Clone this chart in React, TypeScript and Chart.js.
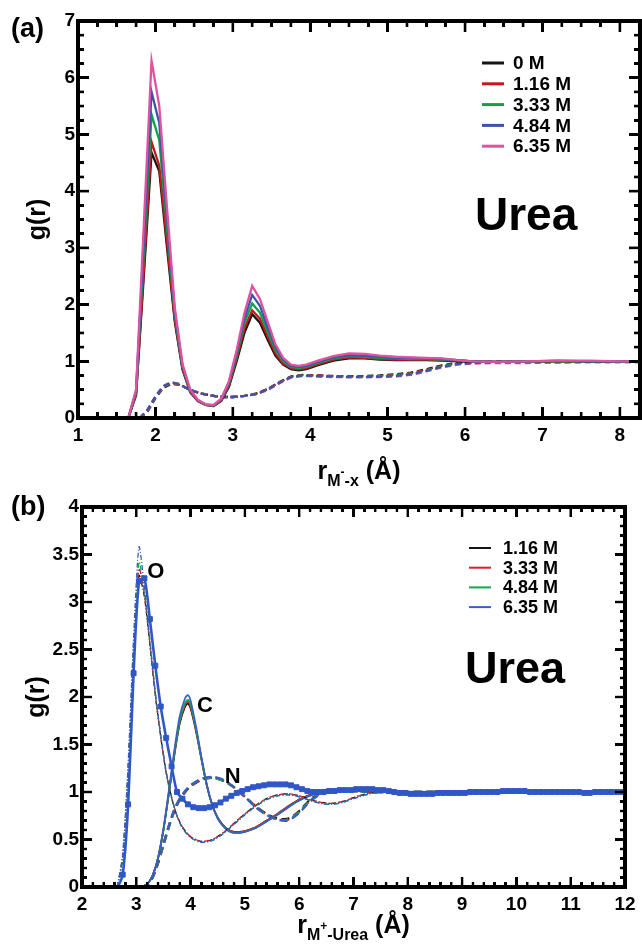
import React, { useEffect, useRef, useState } from 'react';
import { Chart, registerables } from 'chart.js';
Chart.register(...registerables);

const FONT = "'Liberation Sans', Arial, Helvetica, sans-serif";
const INK = '#000000';

// ---------------- Panel (a) data ----------------
const A_LABELS = ['0 M', '1.16 M', '3.33 M', '4.84 M', '6.35 M'];
const A_COLORS = ['#151515', '#c8161d', '#0fa04b', '#3a55a8', '#e2519f'];
const A_XTICKS = [1, 2, 3, 4, 5, 6, 7, 8];

const A_SOLID_R = [1.65, 1.75, 1.85, 1.95, 2.05, 2.15, 2.25, 2.35, 2.45, 2.55,
  2.65, 2.75, 2.85, 2.95, 3.05, 3.15, 3.25, 3.35, 3.45, 3.55,
  3.65, 3.75, 3.85, 3.95, 4.1, 4.3, 4.5, 4.7, 4.9, 5.1,
  5.3, 5.5, 5.7, 5.9, 6.1, 6.4, 6.8, 7.2, 7.6, 8.0, 8.3];
const A_SOLID_0M = [0, 0.4, 2.5, 4.68, 4.35, 3.0, 1.7, 0.85, 0.45, 0.3,
  0.23, 0.21, 0.3, 0.55, 1.0, 1.5, 1.83, 1.68, 1.38, 1.1,
  0.94, 0.86, 0.84, 0.86, 0.93, 1.01, 1.05, 1.05, 1.03, 1.02,
  1.02, 1.02, 1.01, 1.0, 0.99, 0.99, 1.0, 1.0, 1.0, 1.0, 1.0];
const A_SOLID_116 = [0, 0.42, 2.6, 4.87, 4.45, 3.1, 1.75, 0.87, 0.46, 0.3,
  0.23, 0.21, 0.31, 0.57, 1.05, 1.58, 1.9, 1.75, 1.44, 1.14,
  0.96, 0.88, 0.86, 0.88, 0.95, 1.03, 1.07, 1.06, 1.04, 1.03,
  1.03, 1.03, 1.02, 1.01, 1.0, 0.99, 1.0, 1.0, 1.0, 1.0, 1.0];
const A_SOLID_333 = [0, 0.45, 2.9, 5.35, 4.9, 3.35, 1.82, 0.9, 0.47, 0.31,
  0.23, 0.22, 0.32, 0.6, 1.1, 1.68, 2.02, 1.86, 1.52, 1.2,
  1.0, 0.9, 0.88, 0.9, 0.97, 1.05, 1.09, 1.08, 1.06, 1.05,
  1.04, 1.04, 1.03, 1.02, 1.0, 0.99, 1.0, 1.0, 1.0, 1.0, 1.0];
const A_SOLID_484 = [0, 0.48, 3.1, 5.75, 5.2, 3.5, 1.88, 0.92, 0.48, 0.31,
  0.24, 0.22, 0.33, 0.62, 1.15, 1.76, 2.17, 1.98, 1.6, 1.25,
  1.03, 0.92, 0.9, 0.92, 0.99, 1.07, 1.11, 1.1, 1.08, 1.06,
  1.06, 1.05, 1.04, 1.02, 1.0, 0.99, 1.0, 1.01, 1.0, 1.0, 1.0];
const A_SOLID_635 = [0, 0.5, 3.4, 6.3, 5.5, 3.7, 1.95, 0.95, 0.5, 0.32,
  0.24, 0.23, 0.34, 0.65, 1.2, 1.85, 2.33, 2.1, 1.7, 1.3,
  1.06, 0.94, 0.92, 0.94, 1.01, 1.09, 1.14, 1.13, 1.1, 1.08,
  1.07, 1.06, 1.05, 1.02, 1.0, 0.99, 1.0, 1.01, 1.01, 1.0, 1.0];

const A_DASH_R = [1.8, 1.9, 2.0, 2.1, 2.2, 2.3, 2.4, 2.5, 2.6, 2.7,
  2.8, 2.9, 3.0, 3.15, 3.3, 3.45, 3.6, 3.75, 3.9, 4.1,
  4.3, 4.5, 4.7, 4.9, 5.1, 5.3, 5.5, 5.7, 5.9, 6.1,
  6.4, 6.8, 7.2, 7.6, 8.0, 8.3];
const A_DASH_0M = [0, 0.12, 0.35, 0.53, 0.6, 0.59, 0.53, 0.47, 0.43, 0.4,
  0.38, 0.37, 0.37, 0.39, 0.43, 0.51, 0.63, 0.73, 0.76, 0.75,
  0.74, 0.74, 0.74, 0.75, 0.77, 0.8, 0.86, 0.93, 0.97, 0.99,
  1.0, 1.0, 1.0, 1.0, 1.0, 1.0];
const A_DASH_116 = [0, 0.13, 0.36, 0.54, 0.61, 0.59, 0.53, 0.47, 0.43, 0.4,
  0.38, 0.37, 0.37, 0.39, 0.43, 0.51, 0.63, 0.73, 0.75, 0.75,
  0.74, 0.73, 0.73, 0.74, 0.76, 0.79, 0.85, 0.92, 0.96, 0.98,
  0.99, 0.99, 0.99, 1.0, 1.0, 1.0];
const A_DASH_333 = [0, 0.14, 0.37, 0.55, 0.62, 0.6, 0.53, 0.47, 0.43, 0.4,
  0.38, 0.37, 0.37, 0.39, 0.42, 0.5, 0.62, 0.72, 0.75, 0.74,
  0.73, 0.73, 0.73, 0.74, 0.75, 0.78, 0.84, 0.91, 0.96, 0.97,
  0.98, 0.99, 0.99, 0.99, 0.99, 0.99];
const A_DASH_484 = [0, 0.15, 0.38, 0.56, 0.63, 0.6, 0.53, 0.47, 0.43, 0.4,
  0.38, 0.37, 0.37, 0.39, 0.42, 0.5, 0.62, 0.72, 0.75, 0.74,
  0.73, 0.72, 0.72, 0.73, 0.74, 0.77, 0.83, 0.9, 0.95, 0.97,
  0.98, 0.98, 0.98, 0.99, 0.99, 0.99];
const A_DASH_635 = [0, 0.15, 0.38, 0.56, 0.63, 0.6, 0.53, 0.47, 0.43, 0.4,
  0.38, 0.37, 0.37, 0.39, 0.42, 0.49, 0.61, 0.71, 0.74, 0.73,
  0.72, 0.72, 0.72, 0.72, 0.73, 0.76, 0.82, 0.89, 0.94, 0.96,
  0.97, 0.97, 0.98, 0.98, 0.98, 0.98];

// ---------------- Panel (b) data ----------------
const B_LABELS = ['1.16 M', '3.33 M', '4.84 M', '6.35 M'];
const B_COLORS = ['#151515', '#d4202a', '#14a550', '#3a5fc4'];
const B_REF_COLOR = '#2f57c6';

// O (dash-dot)
const B_O_R = [2.65, 2.75, 2.85, 2.95, 3.05, 3.15, 3.25, 3.35, 3.45, 3.55,
  3.65, 3.75, 3.85, 4.0, 4.2, 4.4, 4.6, 4.8, 5.0, 5.2,
  5.4, 5.6, 5.8, 6.0, 6.2, 6.4, 6.6, 6.8, 7.0, 7.3,
  7.6, 8.0, 9.0, 10.0, 11.0, 12.0];
const B_O_116 = [0, 0.3, 1.2, 2.45, 3.28, 3.05, 2.55, 2.02, 1.58, 1.2,
  0.94, 0.75, 0.63, 0.53, 0.48, 0.5, 0.57, 0.67, 0.77, 0.86,
  0.93, 0.97, 0.98, 0.96, 0.92, 0.89, 0.88, 0.9, 0.94, 0.99,
  1.01, 1.0, 1.0, 1.0, 1.0, 1.0];
const B_O_333 = [0, 0.32, 1.23, 2.5, 3.35, 3.08, 2.56, 2.03, 1.58, 1.2,
  0.94, 0.75, 0.63, 0.53, 0.48, 0.5, 0.57, 0.67, 0.77, 0.86,
  0.93, 0.97, 0.98, 0.96, 0.92, 0.89, 0.88, 0.9, 0.94, 0.99,
  1.0, 1.0, 1.0, 1.0, 1.0, 1.0];
const B_O_484 = [0, 0.33, 1.26, 2.55, 3.42, 3.1, 2.58, 2.04, 1.59, 1.21,
  0.94, 0.75, 0.62, 0.52, 0.47, 0.49, 0.56, 0.66, 0.76, 0.85,
  0.92, 0.96, 0.97, 0.95, 0.91, 0.88, 0.87, 0.89, 0.93, 0.98,
  1.0, 1.0, 1.0, 1.0, 1.0, 1.0];
const B_O_635 = [0, 0.35, 1.3, 2.62, 3.58, 3.15, 2.6, 2.05, 1.6, 1.22,
  0.95, 0.75, 0.62, 0.52, 0.47, 0.49, 0.56, 0.66, 0.76, 0.85,
  0.92, 0.96, 0.97, 0.95, 0.91, 0.88, 0.87, 0.89, 0.93, 0.98,
  1.0, 1.0, 1.0, 1.0, 1.0, 1.0];

// C (solid)
const B_C_R = [3.1, 3.2, 3.3, 3.4, 3.5, 3.6, 3.7, 3.8, 3.9, 3.95,
  4.0, 4.1, 4.2, 4.3, 4.4, 4.5, 4.6, 4.7, 4.8, 4.9,
  5.0, 5.2, 5.4, 5.6, 5.8, 6.0, 6.2, 6.4, 6.6, 6.8,
  7.0, 7.3, 7.6, 8.0, 9.0, 10.0, 11.0, 12.0];
const B_C_116 = [0, 0.03, 0.12, 0.3, 0.6, 0.98, 1.38, 1.72, 1.9, 1.93,
  1.88, 1.64, 1.34, 1.06, 0.86, 0.73, 0.65, 0.6, 0.58, 0.58,
  0.59, 0.63, 0.7, 0.77, 0.85, 0.92, 0.97, 1.0, 1.02, 1.03,
  1.02, 1.01, 1.0, 1.0, 1.0, 1.0, 1.0, 1.0];
const B_C_333 = [0, 0.03, 0.12, 0.3, 0.6, 0.99, 1.4, 1.74, 1.92, 1.95,
  1.9, 1.65, 1.35, 1.07, 0.86, 0.73, 0.65, 0.6, 0.58, 0.58,
  0.59, 0.63, 0.7, 0.77, 0.85, 0.92, 0.97, 1.0, 1.02, 1.03,
  1.02, 1.01, 1.0, 1.0, 1.0, 1.0, 1.0, 1.0];
const B_C_484 = [0, 0.03, 0.12, 0.3, 0.6, 0.99, 1.4, 1.75, 1.94, 1.97,
  1.92, 1.66, 1.35, 1.07, 0.86, 0.72, 0.64, 0.59, 0.57, 0.57,
  0.58, 0.62, 0.69, 0.76, 0.84, 0.91, 0.96, 1.0, 1.02, 1.03,
  1.02, 1.01, 1.0, 1.0, 1.0, 1.0, 1.0, 1.0];
const B_C_635 = [0, 0.03, 0.12, 0.31, 0.62, 1.02, 1.44, 1.8, 1.99, 2.02,
  1.96, 1.69, 1.37, 1.08, 0.86, 0.72, 0.64, 0.59, 0.57, 0.57,
  0.58, 0.62, 0.69, 0.76, 0.84, 0.91, 0.96, 1.0, 1.02, 1.03,
  1.02, 1.01, 1.0, 1.0, 1.0, 1.0, 1.0, 1.0];

// N (dashed)
const B_N_R = [3.1, 3.2, 3.3, 3.4, 3.5, 3.6, 3.7, 3.8, 3.9, 4.0,
  4.2, 4.4, 4.6, 4.8, 5.0, 5.2, 5.4, 5.6, 5.8, 6.0,
  6.2, 6.4, 6.6, 6.8, 7.0, 7.5, 8.0, 9.0, 10.0, 11.0, 12.0];
const B_N_116 = [0, 0.02, 0.1, 0.25, 0.44, 0.63, 0.8, 0.92, 1.0, 1.06,
  1.13, 1.15, 1.12, 1.05, 0.95, 0.85, 0.77, 0.72, 0.72, 0.8,
  0.92, 0.99, 1.02, 1.02, 1.01, 1.0, 1.0, 1.0, 1.0, 1.0, 1.0];
const B_N_333 = [0, 0.02, 0.1, 0.25, 0.45, 0.64, 0.8, 0.92, 1.0, 1.06,
  1.13, 1.15, 1.12, 1.05, 0.95, 0.85, 0.76, 0.71, 0.71, 0.79,
  0.91, 0.99, 1.02, 1.02, 1.01, 1.0, 1.0, 1.0, 1.0, 1.0, 1.0];
const B_N_484 = [0, 0.02, 0.1, 0.26, 0.45, 0.64, 0.81, 0.93, 1.01, 1.07,
  1.14, 1.15, 1.12, 1.05, 0.95, 0.84, 0.76, 0.71, 0.71, 0.79,
  0.91, 0.98, 1.02, 1.02, 1.01, 1.0, 1.0, 1.0, 1.0, 1.0, 1.0];
const B_N_635 = [0, 0.02, 0.1, 0.26, 0.46, 0.65, 0.82, 0.93, 1.01, 1.07,
  1.14, 1.16, 1.13, 1.05, 0.95, 0.84, 0.76, 0.71, 0.7, 0.78,
  0.9, 0.98, 1.02, 1.02, 1.01, 1.0, 1.0, 1.0, 1.0, 1.0, 1.0];

// reference curve with square markers
const B_REF_R = [2.05, 2.15, 2.25, 2.35, 2.45, 2.55, 2.65, 2.75, 2.85, 2.95,
  3.05, 3.15, 3.25, 3.35, 3.45, 3.55, 3.65, 3.75, 3.85, 3.95,
  4.05, 4.15, 4.25, 4.35, 4.45, 4.55, 4.65, 4.75, 4.85, 4.95,
  5.05, 5.15, 5.25, 5.35, 5.45, 5.55, 5.65, 5.75, 5.85, 5.95,
  6.05, 6.15, 6.25, 6.35, 6.45, 6.55, 6.65, 6.75, 6.85, 6.95,
  7.05, 7.15, 7.25, 7.35, 7.45, 7.55, 7.65, 7.75, 7.85, 7.95,
  8.05, 8.15, 8.25, 8.35, 8.45, 8.55, 8.65, 8.75, 8.85, 8.95,
  9.05, 9.15, 9.25, 9.35, 9.45, 9.55, 9.65, 9.75, 9.85, 9.95,
  10.05, 10.15, 10.25, 10.35, 10.45, 10.55, 10.65, 10.75, 10.85, 10.95,
  11.05, 11.15, 11.25, 11.35, 11.45, 11.55, 11.65, 11.75, 11.85, 11.95];
const B_REF_G = [0, 0, 0, 0, 0, 0, 0, 0.13, 0.87, 2.25,
  3.22, 3.25, 2.82, 2.33, 1.9, 1.57, 1.27, 1.0, 0.93, 0.87,
  0.84, 0.83, 0.83, 0.84, 0.86, 0.89, 0.93, 0.96, 0.99, 1.01,
  1.03, 1.05, 1.06, 1.07, 1.08, 1.08, 1.08, 1.08, 1.07, 1.05,
  1.03, 1.01, 1.0, 1.0, 1.0, 1.01, 1.01, 1.02, 1.02, 1.02,
  1.03, 1.03, 1.03, 1.03, 1.02, 1.02, 1.01, 1.0, 0.99, 0.99,
  0.98, 0.98, 0.98, 0.98, 0.98, 0.99, 0.99, 0.99, 0.99, 0.99,
  0.99, 1.0, 1.0, 1.0, 1.0, 1.0, 1.0, 1.01, 1.01, 1.01,
  1.01, 1.01, 1.0, 1.0, 1.0, 1.0, 1.0, 1.0, 1.0, 1.0,
  1.0, 1.0, 0.99, 0.99, 1.0, 1.0, 1.0, 1.0, 1.0, 1.0];

// ---------------- styles (frame / ticks) ----------------
const FRAME_A = { tickW: 2.6, frameW: 3.2, majorLen: 11, minorLen: 6, xMinor: 0.25, xMajor: 1, yMinor: 0.25, yMajor: 1 };
const FRAME_B = { tickW: 2.4, frameW: 3.2, majorLen: 10, minorLen: 5, xMinor: 0.2, xMajor: 1, yMinor: 0.1, yMajor: 0.5 };

// ---------------- helpers ----------------
const pts = (xs: number[], ys: number[]) => xs.map((x, i) => ({ x, y: ys[i] }));

function drawRich(ctx: CanvasRenderingContext2D, parts: any[], cx: number, base: number) {
  let w = 0;
  parts.forEach((p) => { ctx.font = `bold ${p.s}px ${FONT}`; w += ctx.measureText(p.t).width; });
  let x = cx - w / 2;
  ctx.textAlign = 'left';
  ctx.textBaseline = 'alphabetic';
  parts.forEach((p) => {
    ctx.font = `bold ${p.s}px ${FONT}`;
    ctx.fillText(p.t, x, base + p.dy);
    x += ctx.measureText(p.t).width;
  });
}

// rectangles of the frame and the inward ticks, computed from the chart's scales
function frameRects(chart: any, o: any, offY: number) {
  const out: { x: number; y: number; w: number; h: number }[] = [];
  const area = chart.chartArea;
  const L = area.left, R = area.right, T = area.top, Bt = area.bottom;
  const xs = chart.scales.x;
  const ys = chart.scales.y;
  const tw = o.tickW;
  const xk0 = Math.ceil(xs.min / o.xMinor - 1e-6);
  const xk1 = Math.floor(xs.max / o.xMinor + 1e-6);
  for (let k = xk0; k <= xk1; k++) {
    const v = k * o.xMinor;
    const r = v / o.xMajor;
    const len = Math.abs(r - Math.round(r)) < 1e-6 ? o.majorLen : o.minorLen;
    const p = xs.getPixelForValue(v);
    out.push({ x: p - tw / 2, y: Bt - len + offY, w: tw, h: len });
    out.push({ x: p - tw / 2, y: T + offY, w: tw, h: len });
  }
  const yk0 = Math.ceil(ys.min / o.yMinor - 1e-6);
  const yk1 = Math.floor(ys.max / o.yMinor + 1e-6);
  for (let k = yk0; k <= yk1; k++) {
    const v = k * o.yMinor;
    const r = v / o.yMajor;
    const len = Math.abs(r - Math.round(r)) < 1e-6 ? o.majorLen : o.minorLen;
    const p = ys.getPixelForValue(v);
    out.push({ x: L, y: p - tw / 2 + offY, w: len, h: tw });
    out.push({ x: R - len, y: p - tw / 2 + offY, w: len, h: tw });
  }
  const fw = o.frameW;
  out.push({ x: L - fw / 2, y: T - fw / 2 + offY, w: R - L + fw, h: fw });
  out.push({ x: L - fw / 2, y: Bt - fw / 2 + offY, w: R - L + fw, h: fw });
  out.push({ x: L - fw / 2, y: T - fw / 2 + offY, w: fw, h: Bt - T + fw });
  out.push({ x: R - fw / 2, y: T - fw / 2 + offY, w: fw, h: Bt - T + fw });
  return out;
}

function drawTexts(chart: any, o: any) {
  const ctx: CanvasRenderingContext2D = chart.ctx;
  const area = chart.chartArea;
  const xs = chart.scales.x;
  const ys = chart.scales.y;
  ctx.save();
  // frame + ticks on the canvas as well
  ctx.fillStyle = INK;
  frameRects(chart, o.frame, 0).forEach((r) => ctx.fillRect(r.x, r.y, r.w, r.h));

  ctx.font = `bold ${o.tagSize}px ${FONT}`;
  ctx.textAlign = 'left';
  ctx.textBaseline = 'alphabetic';
  ctx.fillText(o.tag, o.tagX, o.tagY);

  ctx.save();
  ctx.translate(o.yTitleX, (area.top + area.bottom) / 2);
  ctx.rotate(-Math.PI / 2);
  ctx.font = `bold ${o.yTitleSize}px ${FONT}`;
  ctx.textAlign = 'center';
  ctx.textBaseline = 'middle';
  ctx.fillText('g(r)', 0, 0);
  ctx.restore();

  drawRich(ctx, o.xTitle, (area.left + area.right) / 2, o.xTitleY);

  const lg = o.legend;
  lg.labels.forEach((lab: string, i: number) => {
    const y = lg.y0 + i * lg.dy;
    ctx.fillStyle = lg.colors[i];
    ctx.fillRect(lg.x1, y - lg.lineW / 2, lg.x2 - lg.x1, lg.lineW);
    ctx.fillStyle = INK;
    ctx.font = `bold ${lg.size}px ${FONT}`;
    ctx.textAlign = 'left';
    ctx.textBaseline = 'middle';
    ctx.fillText(lab, lg.tx, y + 1);
  });

  ctx.fillStyle = '#000';
  ctx.font = `bold ${o.word.size}px ${FONT}`;
  ctx.textAlign = 'left';
  ctx.textBaseline = 'alphabetic';
  ctx.fillText(o.word.t, o.word.x, o.word.y);

  (o.notes || []).forEach((n: any) => {
    ctx.font = `bold ${n.s}px ${FONT}`;
    ctx.fillText(n.t, xs.getPixelForValue(n.x), ys.getPixelForValue(n.y));
  });
  ctx.restore();
}

function makeDecor(o: any) {
  return {
    id: 'decor',
    afterDraw(chart: any) { drawTexts(chart, o); },
  };
}

const tickFont = (size: number) => ({ family: FONT, weight: 'bold' as const, size });

function lineDs(data: any[], color: string, width: number, dash: number[], extra: any = {}) {
  return {
    data,
    borderColor: color,
    backgroundColor: color,
    borderWidth: width,
    borderDash: dash,
    pointRadius: 0,
    fill: false,
    ...extra,
  };
}

function withOrder(list: any[]) {
  const n = list.length;
  return list.map((d, i) => ({ ...d, order: n - i }));
}

function configA(): any {
  const solids = [A_SOLID_0M, A_SOLID_116, A_SOLID_333, A_SOLID_484, A_SOLID_635];
  const dashes = [A_DASH_0M, A_DASH_116, A_DASH_333, A_DASH_484, A_DASH_635];
  const dashOrder = [0, 1, 2, 4, 3];
  const ds = [
    ...dashOrder.map((i) => lineDs(pts(A_DASH_R, dashes[i]), A_COLORS[i], 2.3, [6, 4])),
    ...solids.map((s, i) => lineDs(pts(A_SOLID_R, s), A_COLORS[i], 2.3, [])),
  ];
  const decor = makeDecor({
    frame: FRAME_A,
    tag: '(a)', tagSize: 27, tagX: 11, tagY: 37,
    yTitleX: 38, yTitleSize: 25,
    xTitle: [
      { t: 'r', s: 25, dy: 0 },
      { t: 'M', s: 16, dy: 7 },
      { t: '-', s: 12, dy: -3 },
      { t: '-x', s: 16, dy: 7 },
      { t: ' (Å)', s: 25, dy: 0 },
    ],
    xTitleY: 479,
    legend: { labels: A_LABELS, colors: A_COLORS, x1: 482, x2: 504, tx: 513, y0: 63, dy: 20.8, size: 19, lineW: 3 },
    word: { t: 'Urea', x: 475, y: 230, size: 46 },
  });
  return {
    type: 'line',
    data: { datasets: withOrder(ds) },
    plugins: [decor],
    options: {
      animation: false,
      responsive: false,
      devicePixelRatio: 1,
      events: [],
      layout: { padding: { left: 0, right: 2, top: 21, bottom: 0 } },
      elements: { line: { tension: 0 } },
      plugins: { legend: { display: false }, tooltip: { enabled: false } },
      scales: {
        x: {
          type: 'linear', min: 1, max: 8.26,
          grid: { display: false, drawTicks: false },
          border: { display: false },
          ticks: { autoSkip: false, maxRotation: 0, padding: 6, color: INK, font: tickFont(19), callback: (v: number) => String(v) },
          afterBuildTicks: (s: any) => { s.ticks = A_XTICKS.map((v) => ({ value: v })); },
          afterFit: (s: any) => { s.height = 77; },
        },
        y: {
          type: 'linear', min: 0, max: 7,
          grid: { display: false, drawTicks: false },
          border: { display: false },
          ticks: { stepSize: 1, padding: 3, color: INK, font: tickFont(19), callback: (v: number) => String(v) },
          afterFit: (s: any) => { s.width = 78; },
        },
      },
    },
  };
}

function configB(): any {
  const Os = [B_O_116, B_O_333, B_O_484, B_O_635];
  const Cs = [B_C_116, B_C_333, B_C_484, B_C_635];
  const Ns = [B_N_116, B_N_333, B_N_484, B_N_635];
  const ds = [
    ...Ns.map((s, i) => lineDs(pts(B_N_R, s), B_COLORS[i], 2.3, [8, 5])),
    ...Cs.map((s, i) => lineDs(pts(B_C_R, s), B_COLORS[i], 1.7, [])),
    ...Os.map((s, i) => lineDs(pts(B_O_R, s), B_COLORS[i], 1.3, [5, 2, 1, 2])),
    lineDs(pts(B_REF_R, B_REF_G), B_REF_COLOR, 2.6, [], {
      pointStyle: 'rect',
      pointRadius: (c: any) => (c.raw && c.raw.y === 0 ? 0 : 3.5),
      pointBorderWidth: 1,
      pointBackgroundColor: B_REF_COLOR,
      pointBorderColor: B_REF_COLOR,
    }),
  ];
  const decor = makeDecor({
    frame: FRAME_B,
    tag: '(b)', tagSize: 27, tagX: 11, tagY: 45,
    yTitleX: 37, yTitleSize: 25,
    xTitle: [
      { t: 'r', s: 25, dy: 0 },
      { t: 'M', s: 16, dy: 7 },
      { t: '+', s: 12, dy: -3 },
      { t: '-Urea', s: 16, dy: 7 },
      { t: ' (Å)', s: 25, dy: 0 },
    ],
    xTitleY: 463,
    legend: { labels: B_LABELS, colors: B_COLORS, x1: 469, x2: 491, tx: 503, y0: 78, dy: 19.7, size: 18, lineW: 2 },
    word: { t: 'Urea', x: 465, y: 213, size: 45 },
    notes: [
      { t: 'O', x: 3.2, y: 3.25, s: 22 },
      { t: 'C', x: 4.12, y: 1.84, s: 22 },
      { t: 'N', x: 4.63, y: 1.09, s: 22 },
    ],
  });
  return {
    type: 'line',
    data: { datasets: withOrder(ds) },
    plugins: [decor],
    options: {
      animation: false,
      responsive: false,
      devicePixelRatio: 1,
      events: [],
      layout: { padding: { left: 0, right: 17, top: 37, bottom: 0 } },
      elements: { line: { tension: 0.25 } },
      plugins: { legend: { display: false }, tooltip: { enabled: false } },
      scales: {
        x: {
          type: 'linear', min: 2, max: 12,
          grid: { display: false, drawTicks: false },
          border: { display: false },
          ticks: { stepSize: 1, autoSkip: false, maxRotation: 0, padding: 6, color: INK, font: tickFont(19), callback: (v: number) => String(v) },
          afterFit: (s: any) => { s.height = 59; },
        },
        y: {
          type: 'linear', min: 0, max: 4,
          grid: { display: false, drawTicks: false },
          border: { display: false },
          ticks: { stepSize: 0.5, padding: 3, color: INK, font: tickFont(19), callback: (v: number) => String(v) },
          afterFit: (s: any) => { s.width = 82; },
        },
      },
    },
  };
}

const B_TOP = 470;

export default function App() {
  const refA = useRef<HTMLCanvasElement>(null);
  const refB = useRef<HTMLCanvasElement>(null);
  const [marks, setMarks] = useState<{ x: number; y: number; w: number; h: number }[]>([]);
  useEffect(() => {
    const a = new Chart(refA.current as HTMLCanvasElement, configA());
    const b = new Chart(refB.current as HTMLCanvasElement, configB());
    setMarks([...frameRects(a, FRAME_A, 0), ...frameRects(b, FRAME_B, B_TOP)]);
    return () => { a.destroy(); b.destroy(); };
  }, []);
  return (
    <div style={{ position: 'absolute', left: 0, top: 0, width: 642, height: 946, background: '#fff' }}>
      <canvas ref={refA} width={642} height={495} style={{ position: 'absolute', left: 0, top: 0 }} />
      <canvas ref={refB} width={642} height={476} style={{ position: 'absolute', left: 0, top: B_TOP }} />
      {marks.map((r, i) => (
        <div
          key={i}
          style={{ position: 'absolute', left: r.x, top: r.y, width: r.w, height: r.h, background: INK, pointerEvents: 'none' }}
        />
      ))}
    </div>
  );
}
